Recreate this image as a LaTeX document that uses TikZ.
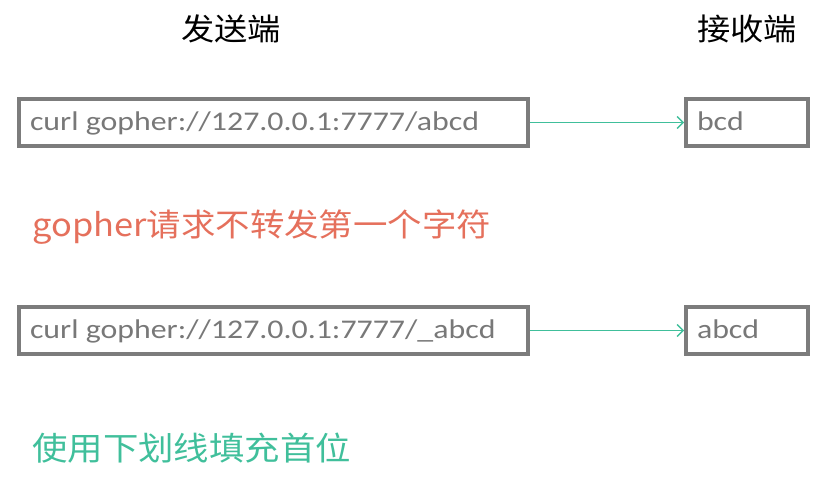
\documentclass[tikz,border=0pt]{standalone}
\usepackage{fontspec}
\setmainfont{Noto Sans CJK SC}[FakeStretch=1.09]
\newfontfamily\boxfont{Carlito}[FakeStretch=1.18]
\usetikzlibrary{arrows.meta}
\definecolor{boxgray}{HTML}{7C7C7C}
\definecolor{txtgray}{HTML}{787878}
\definecolor{teal}{HTML}{40BF9B}
\definecolor{salmon}{HTML}{E5705C}
\newcommand\lefttxt[2]{\makebox[#1][l]{#2}}
\begin{document}
\begin{tikzpicture}[x=1pt,y=1pt,
  sendbox/.style={draw=boxgray,line width=4pt,minimum width=509pt,minimum height=47pt,
    inner xsep=11pt,inner ysep=0pt,
    text height=20pt,text depth=3.4pt,
    font=\boxfont\fontsize{27}{30}\selectfont,text=txtgray},
  recvbox/.style={sendbox,minimum width=122pt},
  conn/.style={draw=teal,line width=1.3pt,-{Straight Barb[length=6pt,width=12pt,line width=1.3pt]}},
  title/.style={font=\fontsize{30.5}{34}\selectfont,text=black},
  note/.style={anchor=west,inner sep=0pt}]
\useasboundingbox (0,0) rectangle (840,-481);
\node[title] (t1) at (231,-29) {发送端};
\node[title] (t2) at (747,-29) {接收端};
\node[sendbox] (s1) at (273.5,-122.5) {\lefttxt{487pt}{curl gopher://127.0.0.1:7777/abcd}};
\node[recvbox] (r1) at (747,-122.5) {\lefttxt{100pt}{bcd}};
\draw[conn] (s1) -- (r1);
\node[note,text=salmon,font=\fontsize{31.6}{36}\selectfont] (n1) at (32,-227) {gopher请求不转发第一个字符};
\node[sendbox] (s2) at (273.5,-330.5) {\lefttxt{487pt}{curl gopher://127.0.0.1:7777/\_abcd}};
\node[recvbox] (r2) at (747,-330.5) {\lefttxt{100pt}{abcd}};
\draw[conn] (s2) -- (r2);
\node[note,text=teal,font=\fontsize{32.5}{36}\selectfont] (n2) at (32,-448) {使用下划线填充首位};
\end{tikzpicture}
\end{document}
